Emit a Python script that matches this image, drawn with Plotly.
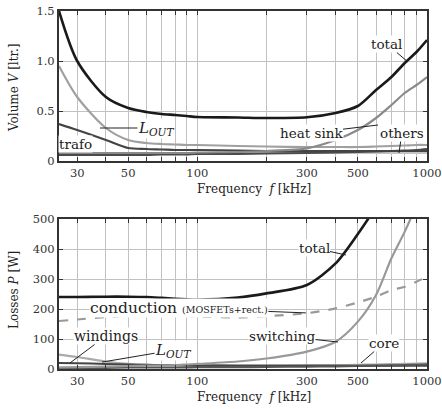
import math
import plotly.graph_objects as go

# ---------------- data ----------------
freq = [25, 30, 40, 50, 60, 70, 80, 90, 100, 150, 200, 300, 400, 500, 600, 700, 800, 900, 1000]

vol_total = [1.50, 1.00, 0.64, 0.53, 0.49, 0.47, 0.46, 0.45, 0.44, 0.435, 0.43, 0.437, 0.48, 0.55, 0.71, 0.84, 0.98, 1.09, 1.21]
vol_lout = [0.95, 0.64, 0.33, 0.21, 0.18, 0.17, 0.165, 0.16, 0.16, 0.15, 0.145, 0.14, 0.14, 0.14, 0.145, 0.15, 0.155, 0.16, 0.16]
vol_trafo = [0.37, 0.31, 0.21, 0.13, 0.12, 0.115, 0.11, 0.11, 0.11, 0.105, 0.10, 0.10, 0.10, 0.10, 0.10, 0.10, 0.10, 0.10, 0.10]
vol_heatsink = [0.08, 0.08, 0.08, 0.08, 0.08, 0.08, 0.08, 0.08, 0.085, 0.09, 0.10, 0.127, 0.21, 0.31, 0.43, 0.56, 0.68, 0.76, 0.84]
vol_others = [0.06, 0.06, 0.06, 0.06, 0.06, 0.065, 0.065, 0.065, 0.07, 0.07, 0.075, 0.08, 0.085, 0.09, 0.095, 0.10, 0.105, 0.11, 0.12]
vol_aux = [0.08, 0.08, 0.08, 0.08, 0.08, 0.08, 0.08, 0.08, 0.08, 0.08, 0.08, 0.08, 0.08, 0.08, 0.08, 0.08, 0.08, 0.08, 0.08]

loss_total = [240, 240, 241, 241, 240, 237, 234, 232, 231, 238, 252, 280, 352, 450, 540, None, None, None, None]
loss_cond = [160, 165, 173, 178, 179, 179, 178, 177, 175, 172, 176, 186, 202, 222, 241, 263, 274, 291, 308]
loss_sw = [5, 6, 8, 10, 11, 12, 13, 15, 17, 25, 35, 58, 91, 158, 247, 369, 458, 545, None]
loss_core = [4, 4, 4, 5, 5, 5, 5, 5, 6, 6, 7, 8, 9, 10, 11, 12, 13, 14, 15]
loss_wind = [20, 19, 17, 15, 14, 13, 13, 12, 12, 11, 11, 11, 11, 11, 11, 11, 11, 11, 11]
loss_lout = [48, 40, 25, 17, 14, 13, 12, 12, 12, 12, 12, 13, 13, 14, 15, 16, 17, 18, 19]

x_major = [30, 50, 100, 300, 500, 1000]
x_major_labels = ["30", "50", "100", "300", "500", "1000"]
x_minor = [40, 60, 70, 80, 90, 200, 400, 600, 700, 800, 900]
vol_ticks = [0, 0.5, 1.0, 1.5]
vol_ticklabels = ["0", "0.5", "1.0", "1.5"]
loss_ticks = [0, 100, 200, 300, 400, 500]

FONT = "DejaVu Serif"

fig = go.Figure()

def add(x, y, color, width, xa, ya, dash="solid", name=""):
    fig.add_trace(go.Scatter(x=x, y=y, mode="lines", name=name, xaxis=xa, yaxis=ya,
                             line=dict(color=color, width=width, dash=dash, shape="spline", smoothing=0.8),
                             hoverinfo="skip", connectgaps=False))

# top panel (volume)
add(freq, vol_aux, "#c4c4c4", 2, "x", "y", name="aux")
add(freq, vol_others, "#4a4a4a", 2, "x", "y", name="others")
add(freq, vol_trafo, "#444444", 2.2, "x", "y", name="trafo")
add(freq, vol_lout, "#a0a0a0", 2.2, "x", "y", name="L_OUT")
add(freq, vol_heatsink, "#8a8a8a", 2.2, "x", "y", name="heat sink")
add(freq, vol_total, "#1a1a1a", 2.6, "x", "y", name="total")

# bottom panel (losses)
add(freq, loss_lout, "#aaaaaa", 2.2, "x2", "y2", name="L_OUT")
add(freq, loss_wind, "#444444", 2, "x2", "y2", name="windings")
add(freq, loss_core, "#555555", 2.2, "x2", "y2", name="core")
add(freq, loss_cond, "#999999", 2.2, "x2", "y2", dash="dash", name="conduction")
add(freq, loss_sw, "#999999", 2.2, "x2", "y2", name="switching")
add(freq, loss_total, "#1a1a1a", 2.6, "x2", "y2", name="total")

xaxis_common = dict(
    type="log", range=[math.log10(25), math.log10(1000)],
    tickmode="array", tickvals=x_major, ticktext=x_major_labels, tickangle=0, automargin=False,
    showgrid=True, gridcolor="#c2c2c2", gridwidth=1,
    minor=dict(tickmode="array", tickvals=x_minor, showgrid=True, gridcolor="#c2c2c2", gridwidth=1,
               ticks="inside", ticklen=4, tickcolor="#333333", tickwidth=1),
    showline=True, linecolor="#333333", linewidth=2, mirror="allticks",
    ticks="inside", ticklen=4, tickcolor="#333333", tickwidth=1,
    tickfont=dict(family=FONT, size=11.5, color="#333333"),
    zeroline=False, fixedrange=True,
)
yaxis_common = dict(
    showgrid=True, gridcolor="#c2c2c2", gridwidth=1, automargin=False,
    showline=True, linecolor="#333333", linewidth=2, mirror="allticks",
    ticks="inside", ticklen=4, tickcolor="#333333", tickwidth=1,
    tickfont=dict(family=FONT, size=11.5, color="#333333"),
    zeroline=False, fixedrange=True,
)

top_dom = [(369 - 161) / 358, 1.0]
bot_dom = [0.0, 150 / 358]

fig.update_layout(
    width=442, height=409,
    margin=dict(l=59, r=15, t=11, b=40, autoexpand=False),
    paper_bgcolor="white", plot_bgcolor="white",
    showlegend=False,
    font=dict(family=FONT, color="#222222"),
    xaxis=dict(**xaxis_common, anchor="y"),
    yaxis=dict(**yaxis_common, domain=top_dom, range=[0, 1.5], tickvals=vol_ticks,
               ticktext=vol_ticklabels, anchor="x"),
    xaxis2=dict(**xaxis_common, anchor="y2"),
    yaxis2=dict(**yaxis_common, domain=bot_dom, range=[0, 500], tickvals=loss_ticks, anchor="x2"),
)

lg = math.log10
def note(text, xr, yr, fx, fy, ax=0, ay=0, size=13.5, arrow=True):
    fig.add_annotation(text=text, xref=xr, yref=yr, x=lg(fx), y=fy,
                       showarrow=arrow, arrowhead=0, arrowwidth=1, arrowcolor="#222222",
                       ax=ax, ay=ay, bgcolor="white", borderpad=0,
                       font=dict(family=FONT, size=size, color="#222222"))

LOUT = "<i>L</i><sub><i>OUT</i></sub>"

# top annotations
note("total", "x", "y", 826, 0.99, ax=-21, ay=-18)
note("heat sink", "x", "y", 612, 0.36, ax=-67, ay=8)
note("others", "x", "y", 755, 0.08, ax=3, ay=-20)
note(LOUT, "x", "y", 37.7, 0.33, ax=56, ay=0, size=15)
fig.add_annotation(text="trafo", xref="x", yref="y", x=lg(29.6), y=0.17, showarrow=False,
                   xanchor="center", yanchor="middle",
                   bgcolor="white", borderpad=0, font=dict(family=FONT, size=13.5, color="#222222"))

# bottom annotations
note("total", "x2", "y2", 444, 380, ax=-32, ay=-7)
note("conduction <span style='font-size:9.5px'>(MOSFETs+rect.)</span>", "x2", "y2", 297, 187,
     ax=-127, ay=-5, size=15.5)
note("switching", "x2", "y2", 410, 90, ax=-56, ay=-6)
note("core", "x2", "y2", 516, 20, ax=23, ay=-20)
note("windings", "x2", "y2", 27.9, 20, ax=36, ay=-27, size=14)
note(LOUT, "x2", "y2", 38.5, 23, ax=71, ay=-12, size=15)

# axis titles
def title(text, x, y, angle=0):
    fig.add_annotation(text=text, xref="paper", yref="paper", x=x, y=y, showarrow=False,
                       xanchor="center", yanchor="middle",
                       textangle=angle, font=dict(family=FONT, size=12, color="#222222"))

title("Volume <i>V</i> [ltr.]", (14 - 59) / 368, (369 - 88) / 358, -90)
title("Losses <i>P</i> [W]", (14 - 59) / 368, (369 - 290) / 358, -90)
title("Frequency  <i>f</i> [kHz]", (254 - 59) / 368, (369 - 189) / 358)
title("Frequency  <i>f</i> [kHz]", (254 - 59) / 368, (369 - 397) / 358)

fig.write_html("out.html")
